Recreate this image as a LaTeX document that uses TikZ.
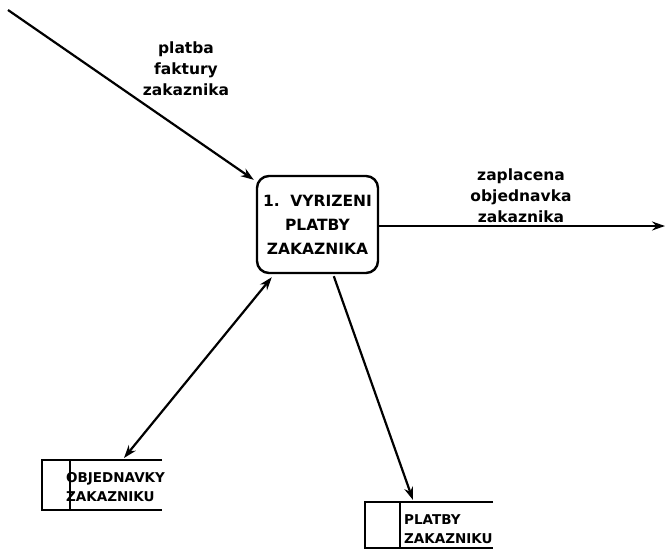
\documentclass[tikz,border=0pt]{standalone}
\usepackage{fontspec}
\setmainfont{DejaVu Sans}
\usetikzlibrary{arrows.meta}
\begin{document}
\begin{tikzpicture}[x=1pt,y=-1pt,
  flow/.style={line width=2.2pt,-{Stealth[length=13pt,width=9pt]}},
  biflow/.style={line width=2.2pt,{Stealth[length=13pt,width=9pt]}-{Stealth[length=13pt,width=9pt]}},
  proc/.style={draw,line width=2.4pt,rounded corners=12pt,minimum width=121pt,minimum height=97pt,
    align=center,font=\bfseries\fontsize{15.5}{24}\selectfont,inner sep=0pt},
  lbl/.style={align=center,font=\bfseries\fontsize{15.5}{21}\selectfont,inner sep=0pt},
  storetext/.style={align=left,anchor=west,font=\bfseries\fontsize{13.5}{19}\selectfont,inner sep=0pt},
  storeline/.style={line width=2.4pt}]
\useasboundingbox (0,0) rectangle (667,555);

% process
\node[proc] (proc) at (317.5,224.5) {1.~~VYRIZENI\\PLATBY\\ZAKAZNIKA};

% incoming flow
\coordinate (src) at (8,10);
\draw[flow] (src) -- ([shift={(-2,5)}]proc.north west);
\node[lbl] (inlbl) at (186,69) {platba\\faktury\\zakaznika};

% outgoing flow
\coordinate (sink) at (665,226);
\draw[flow] (proc.east |- sink) -- (sink);
\node[lbl] (outlbl) at (521,196) {zaplacena\\objednavka\\zakaznika};

% data store: OBJEDNAVKY ZAKAZNIKU
\draw[storeline] (162,460) -- (42,460) -- (42,510) -- (162,510);
\draw[storeline] (70,460) -- (70,510);
\node[storetext] (st1) at (66,487) {OBJEDNAVKY\\ZAKAZNIKU};
\coordinate (st1top) at (124,458);

% data store: PLATBY ZAKAZNIKU
\draw[storeline] (493,502) -- (365,502) -- (365,548) -- (493,548);
\draw[storeline] (400,502) -- (400,548);
\node[storetext] (st2) at (404,529) {PLATBY\\ZAKAZNIKU};
\coordinate (st2top) at (413,500);

% connectors to stores
\draw[biflow] ([shift={(16,3)}]proc.south west) -- (st1top);
\draw[flow] ([shift={(78,2)}]proc.south west) -- (st2top);
\end{tikzpicture}
\end{document}
